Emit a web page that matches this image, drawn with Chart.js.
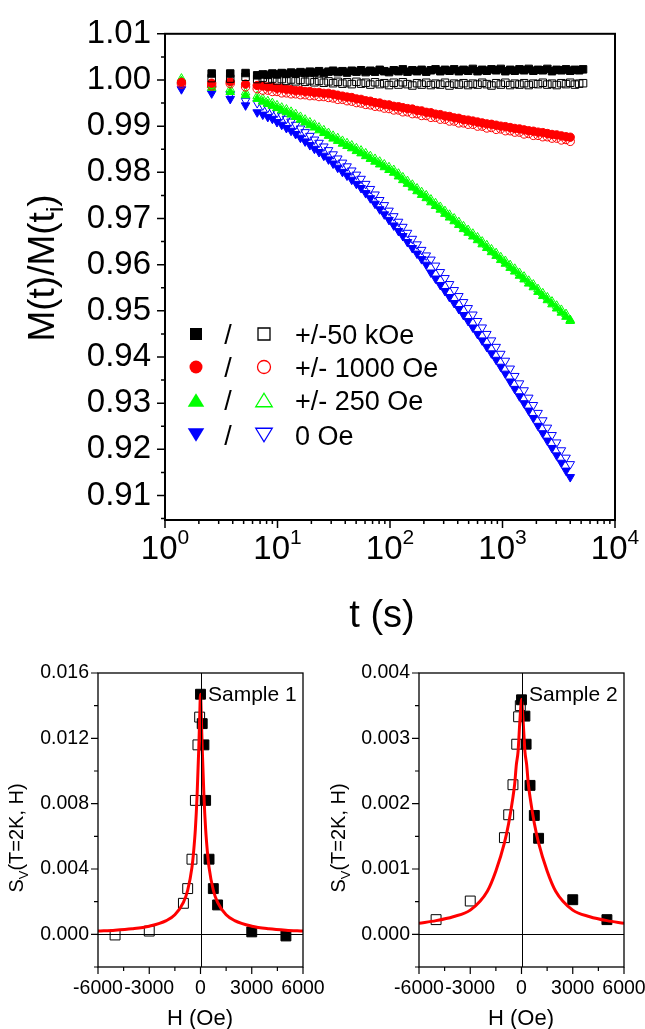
<!DOCTYPE html>
<html>
<head>
<meta charset="utf-8">
<script src="https://cdn.jsdelivr.net/npm/chart.js@4.4.1/dist/chart.umd.min.js"></script>
<style>
  html, body { margin: 0; padding: 0; background: #fff; }
  #wrap { position: relative; width: 645px; height: 1029px; overflow: hidden; }
  canvas { position: absolute; }
  #top { left: 0; top: 0; }
  #s1 { left: 0; top: 650px; }
  #s2 { left: 322px; top: 650px; }
</style>
</head>
<body>
<div id="wrap">
  <canvas id="top" width="645" height="660"></canvas>
  <canvas id="s1" width="340" height="379"></canvas>
  <canvas id="s2" width="323" height="379"></canvas>
</div>
<script>
// ---- relaxation curves M(t)/M(ti) ----
const tGrid = [1.4, 2.6, 3.8, 5.2, 6.6, 7.4, 8.2, 9.0, 9.9, 10.9,
  12, 13.2, 14.5, 16, 17.6, 19.4, 21.3, 23.4, 25.8, 28.4,
  31.2, 34.3, 37.8, 41.5, 45.7, 50.3, 55.3, 60.8, 66.9, 73.6,
  81, 89, 98, 108, 119, 130, 143, 158, 174, 191,
  210, 231, 254, 280, 308, 338, 372, 409, 450, 495,
  545, 600, 660, 725, 798, 878, 965, 1060, 1170, 1285,
  1415, 1555, 1710, 1880, 2070, 2280, 2505, 2755, 3030, 3335,
  3670, 4000];
const tBlack = [...tGrid, 4400, 4800, 5200];

const black50kFilled = [null, 1.0014, 1.0014, 1.0015, 1.0010, 1.0012, 1.0011, 1.0014, 1.0012, 1.0015,
  1.0013, 1.0016, 1.0014, 1.0017, 1.0015, 1.0018, 1.0016, 1.0019, 1.0015, 1.0018,
  1.0020, 1.0017, 1.0019, 1.0016, 1.0020, 1.0018, 1.0021, 1.0017, 1.0020, 1.0018,
  1.0022, 1.0019, 1.0017, 1.0021, 1.0019, 1.0023, 1.0018, 1.0021, 1.0019, 1.0022,
  1.0018, 1.0021, 1.0023, 1.0019, 1.0022, 1.0020, 1.0023, 1.0019, 1.0022, 1.0020,
  1.0024, 1.0019, 1.0022, 1.0020, 1.0023, 1.0021, 1.0024, 1.0019, 1.0022, 1.0020,
  1.0023, 1.0021, 1.0024, 1.0020, 1.0022, 1.0021, 1.0024, 1.0019, 1.0022, 1.0021,
  1.0023, 1.0020, 1.0022, 1.0021, 1.0023];
const black50kOpen = [null, 1.0004, 1.0003, 1.0007, 1.0002, 1.0005, 1.0001, 1.0003, 0.9999, 1.0002,
  0.9998, 1.0001, 0.9997, 1.0000, 0.9996, 0.9999, 0.9995, 0.9998, 0.9994, 0.9997,
  0.9993, 0.9996, 0.9992, 0.9995, 0.9991, 0.9996, 0.9992, 0.9994, 0.9990, 0.9995,
  0.9991, 0.9993, 0.9989, 0.9994, 0.9990, 0.9995, 0.9991, 0.9988, 0.9993, 0.9990,
  0.9994, 0.9989, 0.9992, 0.9990, 0.9994, 0.9988, 0.9992, 0.9990, 0.9993, 0.9989,
  0.9992, 0.9990, 0.9994, 0.9991, 0.9988, 0.9993, 0.9990, 0.9994, 0.9989, 0.9992,
  0.9990, 0.9993, 0.9989, 0.9992, 0.9991, 0.9994, 0.9990, 0.9992, 0.9989, 0.9993,
  0.9991, 0.9994, 0.9990, 0.9992, 0.9993];

const red1000Filled = [0.9995, 0.9993, 0.9996, 0.9991, 0.9988, 0.9987, 0.9985, 0.9985, 0.9982, 0.9982,
  0.9980, 0.9979, 0.9977, 0.9977, 0.9975, 0.9975, 0.9973, 0.9973, 0.9971, 0.9971,
  0.9969, 0.9967, 0.9965, 0.9963, 0.9962, 0.9959, 0.9958, 0.9955, 0.9954, 0.9951,
  0.9950, 0.9947, 0.9946, 0.9943, 0.9942, 0.9940, 0.9938, 0.9937, 0.9934, 0.9933,
  0.9930, 0.9929, 0.9926, 0.9925, 0.9922, 0.9921, 0.9918, 0.9917, 0.9914, 0.9913,
  0.9911, 0.9909, 0.9907, 0.9905, 0.9904, 0.9902, 0.9900, 0.9899, 0.9897, 0.9895,
  0.9894, 0.9892, 0.9890, 0.9889, 0.9887, 0.9886, 0.9884, 0.9882, 0.9881, 0.9879,
  0.9877, 0.9876];
const red1000Open = [0.9991, 0.9987, 0.9992, 0.9985, 0.9981, 0.9978, 0.9978, 0.9975, 0.9975, 0.9972,
  0.9972, 0.9970, 0.9970, 0.9968, 0.9968, 0.9966, 0.9966, 0.9964, 0.9964, 0.9962,
  0.9961, 0.9958, 0.9958, 0.9955, 0.9954, 0.9951, 0.9950, 0.9947, 0.9946, 0.9943,
  0.9942, 0.9939, 0.9938, 0.9935, 0.9935, 0.9931, 0.9931, 0.9927, 0.9927, 0.9923,
  0.9923, 0.9919, 0.9919, 0.9915, 0.9915, 0.9911, 0.9911, 0.9907, 0.9907, 0.9904,
  0.9904, 0.9900, 0.9900, 0.9896, 0.9897, 0.9893, 0.9894, 0.9890, 0.9890, 0.9887,
  0.9887, 0.9883, 0.9884, 0.9880, 0.9880, 0.9877, 0.9877, 0.9874, 0.9874, 0.9870,
  0.9871, 0.9867];

const green250Filled = [0.9998, 0.9983, 0.9974, 0.9967, 0.9959, 0.9953, 0.9948, 0.9944, 0.9939, 0.9934,
  0.9930, 0.9925, 0.9920, 0.9914, 0.9908, 0.9902, 0.9897, 0.9891, 0.9885, 0.9879,
  0.9873, 0.9868, 0.9862, 0.9857, 0.9852, 0.9846, 0.9841, 0.9835, 0.9829, 0.9823,
  0.9817, 0.9811, 0.9805, 0.9799, 0.9791, 0.9783, 0.9775, 0.9767, 0.9759, 0.9751,
  0.9744, 0.9735, 0.9727, 0.9719, 0.9710, 0.9702, 0.9694, 0.9686, 0.9677, 0.9669,
  0.9661, 0.9653, 0.9644, 0.9636, 0.9627, 0.9619, 0.9610, 0.9602, 0.9593, 0.9585,
  0.9576, 0.9568, 0.9559, 0.9551, 0.9541, 0.9532, 0.9523, 0.9514, 0.9505, 0.9496,
  0.9487, 0.9480];
const green250Open = [1.0003, 0.9989, 0.9980, 0.9973, 0.9965, 0.9959, 0.9954, 0.9950, 0.9945, 0.9940,
  0.9936, 0.9931, 0.9926, 0.9920, 0.9914, 0.9908, 0.9903, 0.9897, 0.9891, 0.9885,
  0.9879, 0.9874, 0.9868, 0.9863, 0.9858, 0.9852, 0.9847, 0.9841, 0.9835, 0.9829,
  0.9823, 0.9817, 0.9811, 0.9805, 0.9797, 0.9789, 0.9781, 0.9773, 0.9765, 0.9757,
  0.9750, 0.9741, 0.9733, 0.9725, 0.9716, 0.9708, 0.9700, 0.9692, 0.9683, 0.9675,
  0.9667, 0.9659, 0.9650, 0.9642, 0.9633, 0.9625, 0.9616, 0.9608, 0.9599, 0.9591,
  0.9582, 0.9574, 0.9565, 0.9557, 0.9547, 0.9538, 0.9529, 0.9520, 0.9511, 0.9502,
  0.9493, 0.9478];

const blue0Filled = [0.9980, 0.9971, 0.9959, 0.9945, 0.9930, 0.9925, 0.9920, 0.9916, 0.9909, 0.9903,
  0.9896, 0.9890, 0.9883, 0.9875, 0.9867, 0.9859, 0.9851, 0.9844, 0.9836, 0.9828,
  0.9819, 0.9810, 0.9801, 0.9793, 0.9784, 0.9775, 0.9766, 0.9755, 0.9744, 0.9732,
  0.9720, 0.9709, 0.9697, 0.9685, 0.9673, 0.9662, 0.9649, 0.9636, 0.9624, 0.9612,
  0.9600, 0.9583, 0.9570, 0.9556, 0.9543, 0.9530, 0.9517, 0.9504, 0.9491, 0.9478,
  0.9464, 0.9450, 0.9436, 0.9422, 0.9408, 0.9394, 0.9379, 0.9364, 0.9347, 0.9331,
  0.9315, 0.9300, 0.9284, 0.9268, 0.9251, 0.9235, 0.9219, 0.9203, 0.9187, 0.9171,
  0.9154, 0.9140];
const blue0Open = [0.9990, 0.9981, 0.9969, 0.9955, 0.9950, 0.9945, 0.9940, 0.9936, 0.9929, 0.9923,
  0.9916, 0.9910, 0.9903, 0.9895, 0.9887, 0.9879, 0.9871, 0.9864, 0.9856, 0.9848,
  0.9839, 0.9830, 0.9821, 0.9813, 0.9804, 0.9795, 0.9786, 0.9775, 0.9764, 0.9752,
  0.9740, 0.9729, 0.9717, 0.9705, 0.9693, 0.9682, 0.9669, 0.9656, 0.9644, 0.9632,
  0.9620, 0.9611, 0.9598, 0.9584, 0.9571, 0.9558, 0.9545, 0.9532, 0.9519, 0.9506,
  0.9492, 0.9478, 0.9464, 0.9450, 0.9436, 0.9422, 0.9407, 0.9392, 0.9375, 0.9359,
  0.9343, 0.9328, 0.9312, 0.9296, 0.9279, 0.9263, 0.9247, 0.9231, 0.9215, 0.9198,
  0.9182, 0.9168];

const legendLabels = ['+/-50 kOe', '+/- 1000 Oe', '+/- 250 Oe', '0 Oe'];
const xTicksTop = [1, 10, 100, 1000, 10000];
const yTicksTop = [0.91, 0.92, 0.93, 0.94, 0.95, 0.96, 0.97, 0.98, 0.99, 1.00, 1.01];

// ---- S_V(T=2K, H) vs H ----
const openH1 = [-5000, -3000, -1000, -750, -500, -300, -150, -50];
const openS1 = [-0.00004, 0.0002, 0.0019, 0.0028, 0.0046, 0.0082, 0.0116, 0.0133];
const filledH1 = [0, 100, 200, 300, 500, 750, 1000, 3000, 5000];
const filledS1 = [0.0147, 0.0129, 0.0116, 0.0082, 0.0046, 0.0028, 0.0018, 0.00015, -0.0001];
const fitH = [-6000, -5000, -4000, -3000, -2000, -1500, -1000, -750, -500, -400, -300, -200, -100, -50, 0,
  50, 100, 200, 300, 400, 500, 750, 1000, 1500, 2000, 3000, 4000, 5000, 6000];
const fitS1 = [0.00020, 0.00025, 0.00034, 0.00050, 0.00084, 0.00120, 0.00196, 0.0027, 0.0041, 0.0051, 0.00645, 0.0085, 0.0114, 0.0132, 0.0147,
  0.0132, 0.0114, 0.0085, 0.00645, 0.0051, 0.0041, 0.0027, 0.00196, 0.00120, 0.00084, 0.00050, 0.00034, 0.00025, 0.00020];

const openH2 = [-5000, -3000, -1000, -750, -500, -280, -170, -70];
const openS2 = [0.000225, 0.00051, 0.00148, 0.00183, 0.00229, 0.00291, 0.00333, 0.0035];
const filledH2 = [0, 200, 270, 500, 750, 1000, 3000, 5000];
const filledS2 = [0.00359, 0.00334, 0.00291, 0.00228, 0.00182, 0.00147, 0.00053, 0.000225];
const fitS2 = [0.00017, 0.00021, 0.00027, 0.00037, 0.00066, 0.00097, 0.0014, 0.0017, 0.0021, 0.0023, 0.0026, 0.0028, 0.00325, 0.00345, 0.0036,
  0.00345, 0.00325, 0.0028, 0.0026, 0.0023, 0.0021, 0.0017, 0.0014, 0.00097, 0.00066, 0.00037, 0.00027, 0.00021, 0.00017];

const xTicksH = [-6000, -3000, 0, 3000, 6000];
const yTicks1 = [0.000, 0.004, 0.008, 0.012, 0.016];
const yTicks2 = [0.000, 0.001, 0.002, 0.003, 0.004];

const FONT = '"Liberation Sans", Arial, sans-serif';

function pts(xs, ys) {
  const out = [];
  xs.forEach((x, i) => { if (ys[i] !== null && ys[i] !== undefined) out.push({ x: x, y: ys[i] }); });
  return out;
}

// text with sub/superscript parts, y is the baseline
function drawRich(ctx, parts, x, y, rot, align) {
  ctx.save();
  ctx.translate(x, y);
  ctx.rotate(rot || 0);
  let w = 0;
  parts.forEach(p => { ctx.font = p.size + 'px ' + FONT; p.w = ctx.measureText(p.t).width; w += p.w; });
  let cx = align === 'left' ? 0 : -w / 2;
  ctx.fillStyle = '#000';
  ctx.textAlign = 'left';
  ctx.textBaseline = 'alphabetic';
  parts.forEach(p => {
    ctx.font = p.size + 'px ' + FONT;
    ctx.fillText(p.t, cx, p.dy || 0);
    cx += p.w;
  });
  ctx.restore();
}

function drawMark(ctx, shape, x, y, s, color, filled) {
  ctx.beginPath();
  if (shape === 'square') ctx.rect(x - s / 2, y - s / 2, s, s);
  else if (shape === 'circle') ctx.arc(x, y, s / 2, 0, Math.PI * 2);
  else if (shape === 'up') { ctx.moveTo(x, y - s * 0.45); ctx.lineTo(x + s * 0.55, y + s * 0.45); ctx.lineTo(x - s * 0.55, y + s * 0.45); ctx.closePath(); }
  else { ctx.moveTo(x, y + s * 0.45); ctx.lineTo(x + s * 0.55, y - s * 0.45); ctx.lineTo(x - s * 0.55, y - s * 0.45); ctx.closePath(); }
  if (filled) { ctx.fillStyle = color; ctx.fill(); }
  else { ctx.strokeStyle = color; ctx.lineWidth = 1.3; ctx.stroke(); }
}

// frame, ticks, zero lines, extra texts and the legend
const deco = {
  id: 'deco',
  afterDraw(chart, args, o) {
    const { ctx, chartArea: a } = chart;
    const x = chart.scales.x, y = chart.scales.y;
    ctx.save();
    if (o.zero) {
      ctx.strokeStyle = '#000';
      ctx.lineWidth = 1;
      ctx.beginPath();
      const y0 = Math.round(y.getPixelForValue(0)) + 0.5;
      const x0 = Math.round(x.getPixelForValue(0)) + 0.5;
      ctx.moveTo(a.left, y0); ctx.lineTo(a.right, y0);
      ctx.moveTo(x0, a.top); ctx.lineTo(x0, a.bottom);
      ctx.stroke();
    }
    ctx.strokeStyle = '#000';
    ctx.lineWidth = o.lw;
    ctx.strokeRect(a.left, a.top, a.right - a.left, a.bottom - a.top);
    ctx.lineWidth = o.tw;
    ctx.beginPath();
    o.xMajor.forEach(v => { const p = x.getPixelForValue(v); ctx.moveTo(p, a.bottom); ctx.lineTo(p, a.bottom + o.major); });
    o.xMinor.forEach(v => { const p = x.getPixelForValue(v); ctx.moveTo(p, a.bottom); ctx.lineTo(p, a.bottom + o.minor); });
    o.yMajor.forEach(v => { const p = y.getPixelForValue(v); ctx.moveTo(a.left, p); ctx.lineTo(a.left - o.major, p); });
    o.yMinor.forEach(v => { const p = y.getPixelForValue(v); ctx.moveTo(a.left, p); ctx.lineTo(a.left - o.minor, p); });
    ctx.stroke();
    if (o.powLabels) {
      o.powLabels.forEach(v => {
        const p = x.getPixelForValue(v);
        drawRich(ctx, [{ t: '10', size: 33 }, { t: String(Math.round(Math.log10(v))), size: 21, dy: -15 }], p, o.powY);
      });
    }
    if (o.xLabels) {
      o.xLabels.forEach(v => {
        drawRich(ctx, [{ t: String(v), size: o.xLabelSize }], x.getPixelForValue(v), o.xLabelY);
      });
    }
    (o.texts || []).forEach(t => drawRich(ctx, t.parts, t.x, t.y, t.rot, t.align));
    if (o.legend) {
      const L = o.legend;
      L.rows.forEach((r, i) => {
        const cy = L.y[i];
        drawMark(ctx, r.shape, L.x1, cy, r.size, r.color, true);
        drawMark(ctx, r.shape, L.x2, cy, r.size, r.color, false);
        drawRich(ctx, [{ t: '/', size: L.font }], L.xs, cy + 9.5);
        drawRich(ctx, [{ t: legendLabels[i], size: L.font }], L.xt, cy + 9.5, 0, 'left');
      });
    }
    ctx.restore();
  }
};

function fixedTicks(list) {
  return scale => { scale.ticks = list.map(v => ({ value: v })); };
}

function marks(label, data, style, color, filled, r, rot) {
  return {
    label: label, data: data, showLine: false,
    pointStyle: style, pointRotation: rot || 0, pointRadius: r,
    pointBorderColor: color,
    pointBackgroundColor: filled ? color : 'rgba(0,0,0,0)',
    pointBorderWidth: 1
  };
}

// ---- top chart ----
const logMinor = [];
[1, 10, 100, 1000].forEach(d => { for (let k = 2; k <= 9; k++) logMinor.push(k * d); });
const yMinorTop = [0.905, 0.915, 0.925, 0.935, 0.945, 0.955, 0.965, 0.975, 0.985, 0.995, 1.005];

new Chart(document.getElementById('top'), {
  type: 'scatter',
  data: {
    datasets: [
      marks('-50 kOe', pts(tBlack, black50kOpen), 'rect', '#000000', false, 5.3),
      marks('+50 kOe', pts(tBlack, black50kFilled), 'rect', '#000000', true, 5.3),
      marks('-1000 Oe', pts(tGrid, red1000Open), 'circle', '#ff0000', false, 4.2),
      marks('+1000 Oe', pts(tGrid, red1000Filled), 'circle', '#ff0000', true, 4.2),
      marks('-250 Oe', pts(tGrid, green250Open), 'triangle', '#00ff00', false, 5),
      marks('+250 Oe', pts(tGrid, green250Filled), 'triangle', '#00ff00', true, 5),
      marks('0 Oe open', pts(tGrid, blue0Open), 'triangle', '#0000ff', false, 5, 180),
      marks('0 Oe', pts(tGrid, blue0Filled), 'triangle', '#0000ff', true, 5, 180)
    ]
  },
  options: {
    responsive: false,
    animation: false,
    layout: { padding: { left: 0, right: 30, top: 28, bottom: 0 }, autoPadding: false },
    plugins: {
      legend: { display: false },
      tooltip: { enabled: false },
      deco: {
        lw: 2, tw: 1.5, major: 8, minor: 4,
        xMajor: xTicksTop, xMinor: logMinor, yMajor: yTicksTop, yMinor: yMinorTop,
        powLabels: xTicksTop, powY: 559,
        texts: [
          { parts: [{ t: 'M(t)/M(t', size: 37 }, { t: 'i', size: 24, dy: 9 }, { t: ')', size: 37 }], x: 54, y: 268, rot: -Math.PI / 2 },
          { parts: [{ t: 't (s)', size: 38 }], x: 382, y: 627 }
        ],
        legend: {
          x1: 196, xs: 228, x2: 264, xt: 295, font: 27, y: [334, 367, 400, 435],
          rows: [
            { shape: 'square', size: 12, color: '#000000' },
            { shape: 'circle', size: 13, color: '#ff0000' },
            { shape: 'up', size: 15, color: '#00ff00' },
            { shape: 'down', size: 15, color: '#0000ff' }
          ]
        }
      }
    },
    scales: {
      x: {
        type: 'logarithmic', min: 1, max: 10000,
        ticks: { display: false },
        grid: { display: false, drawTicks: false },
        border: { display: false },
        afterBuildTicks: fixedTicks(xTicksTop),
        afterFit: s => { s.height = 140; }
      },
      y: {
        type: 'linear', min: 0.9047, max: 1.01,
        ticks: { font: { family: FONT, size: 33 }, color: '#000', padding: 14, autoSkip: false, callback: v => v.toFixed(2) },
        grid: { display: false, drawTicks: false },
        border: { display: false },
        afterBuildTicks: fixedTicks(yTicksTop),
        afterFit: s => { s.width = 165; }
      }
    }
  },
  plugins: [deco]
});

// ---- bottom charts ----
function sampleChart(id, openH, openS, filledH, filledS, fitS, yMin, yMax, yTicks, yMinor, label, padRight, yAxisW) {
  new Chart(document.getElementById(id), {
    type: 'scatter',
    data: {
      datasets: [
        {
          label: 'fit', data: pts(fitH, fitS), showLine: true, pointRadius: 0,
          borderColor: '#ff0000', borderWidth: 3, cubicInterpolationMode: 'monotone', fill: false
        },
        marks('filled', pts(filledH, filledS), 'rect', '#000000', true, 7),
        marks('open', pts(openH, openS), 'rect', '#000000', false, 7)
      ]
    },
    options: {
      responsive: false,
      animation: false,
      layout: { padding: { left: 0, right: padRight, top: 23, bottom: 0 }, autoPadding: false },
      plugins: {
        legend: { display: false },
        tooltip: { enabled: false },
        deco: {
          zero: true, lw: 1.3, tw: 1.2, major: 7, minor: 4,
          xMajor: xTicksH, xMinor: [-4500, -1500, 1500, 4500], yMajor: yTicks, yMinor: yMinor,
          xLabels: xTicksH, xLabelSize: 19.5, xLabelY: 344,
          texts: [
            { parts: [{ t: 'S', size: 20 }, { t: 'V', size: 13, dy: 5 }, { t: '(T=2K, H)', size: 20 }], x: 23, y: 188, rot: -Math.PI / 2 },
            { parts: [{ t: 'H (Oe)', size: 22 }], x: yAxisW + 102, y: 375 },
            { parts: [{ t: label, size: 21 }], x: yAxisW + 110, y: 51, align: 'left' }
          ]
        }
      },
      scales: {
        x: {
          type: 'linear', min: -6000, max: 6000,
          ticks: { display: false },
          grid: { display: false, drawTicks: false },
          border: { display: false },
          afterBuildTicks: fixedTicks(xTicksH),
          afterFit: s => { s.height = 62; }
        },
        y: {
          type: 'linear', min: yMin, max: yMax,
          ticks: { font: { family: FONT, size: 19.5 }, color: '#000', padding: 9, autoSkip: false, callback: v => v.toFixed(3) },
          grid: { display: false, drawTicks: false },
          border: { display: false },
          afterBuildTicks: fixedTicks(yTicks),
          afterFit: s => { s.width = yAxisW; }
        }
      }
    },
    plugins: [deco]
  });
}

sampleChart('s1', openH1, openS1, filledH1, filledS1, fitS1, -0.002, 0.016, yTicks1,
  [-0.002, 0.002, 0.006, 0.010, 0.014], 'Sample 1', 37, 98);
sampleChart('s2', openH2, openS2, filledH2, filledS2, fitS2, -0.0005, 0.004, yTicks2,
  [-0.0005, 0.0005, 0.0015, 0.0025, 0.0035], 'Sample 2', 21, 97);
</script>
</body>
</html>
